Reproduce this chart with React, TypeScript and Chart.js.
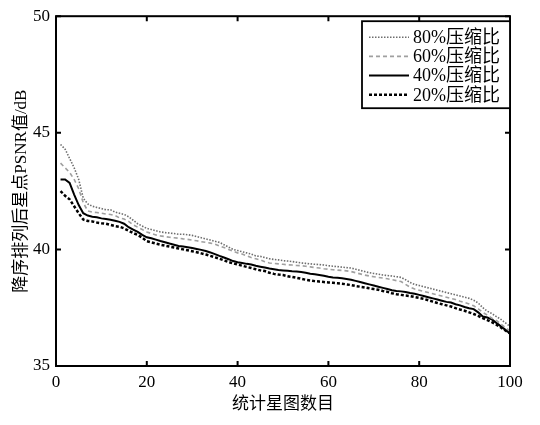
import React, { useEffect, useRef } from "react";
import { Chart, registerables } from "chart.js";

Chart.register(...registerables);

// x: statistic star map index (1..100)
const starIndex: number[] = Array.from({ length: 100 }, (_, i) => i + 1);

const xTicks = [0, 20, 40, 60, 80, 100];
const yTicks = [35, 40, 45, 50];

const seriesLabels = ["80%压缩比", "60%压缩比", "40%压缩比", "20%压缩比"];

const cr80: number[] = [
  44.5, 44.3, 43.9, 43.5, 43.0, 42.2, 41.95, 41.85, 41.8, 41.75,
  41.7, 41.7, 41.6, 41.55, 41.5, 41.4, 41.25, 41.1, 41.0, 40.9,
  40.85, 40.8, 40.75, 40.72, 40.7, 40.68, 40.65, 40.65, 40.63, 40.6,
  40.55, 40.5, 40.45, 40.4, 40.35, 40.3, 40.2, 40.1, 40.0, 39.95,
  39.9, 39.85, 39.8, 39.72, 39.7, 39.65, 39.6, 39.57, 39.55, 39.52,
  39.5, 39.48, 39.45, 39.42, 39.4, 39.38, 39.36, 39.35, 39.33, 39.3,
  39.28, 39.26, 39.24, 39.22, 39.2, 39.15, 39.1, 39.05, 39.0, 38.97,
  38.94, 38.9, 38.88, 38.86, 38.83, 38.8, 38.7, 38.58, 38.5, 38.45,
  38.4, 38.35, 38.3, 38.25, 38.2, 38.15, 38.1, 38.05, 38.0, 37.95,
  37.9, 37.82, 37.7, 37.5, 37.35, 37.25, 37.12, 37.0, 36.85, 36.7,
];

const cr60: number[] = [
  43.7, 43.5, 43.3, 43.0, 42.6, 42.0, 41.65, 41.6, 41.58, 41.55,
  41.52, 41.5, 41.45, 41.35, 41.3, 41.2, 41.05, 40.95, 40.85, 40.75,
  40.68, 40.62, 40.58, 40.55, 40.52, 40.5, 40.48, 40.45, 40.43, 40.4,
  40.37, 40.33, 40.3, 40.27, 40.23, 40.15, 40.08, 40.0, 39.92, 39.85,
  39.8, 39.72, 39.65, 39.6, 39.55, 39.47, 39.42, 39.4, 39.38, 39.36,
  39.34, 39.33, 39.31, 39.3, 39.28, 39.25, 39.22, 39.2, 39.17, 39.15,
  39.13, 39.11, 39.1, 39.08, 39.05, 39.0, 38.95, 38.9, 38.86, 38.83,
  38.8, 38.77, 38.74, 38.7, 38.66, 38.62, 38.5, 38.38, 38.3, 38.25,
  38.2, 38.15, 38.1, 38.05, 38.0, 37.95, 37.9, 37.85, 37.78, 37.72,
  37.66, 37.58, 37.45, 37.3, 37.18, 37.05, 36.95, 36.8, 36.65, 36.5,
];

const cr40: number[] = [
  43.0, 43.0, 42.85, 42.35, 41.9, 41.55, 41.45, 41.4, 41.38, 41.33,
  41.3, 41.27, 41.23, 41.18, 41.1, 40.95, 40.85, 40.75, 40.62, 40.52,
  40.48, 40.42, 40.36, 40.31, 40.25, 40.2, 40.15, 40.12, 40.09, 40.06,
  40.02, 39.98, 39.93, 39.87, 39.8, 39.72, 39.65, 39.58, 39.5, 39.45,
  39.42, 39.38, 39.35, 39.3, 39.26, 39.22, 39.18, 39.15, 39.12, 39.1,
  39.08, 39.06, 39.05, 39.03, 39.0, 38.96, 38.93, 38.9, 38.87, 38.83,
  38.8, 38.78, 38.76, 38.73, 38.7, 38.65, 38.6, 38.55, 38.5, 38.45,
  38.4, 38.35, 38.3, 38.25, 38.22, 38.2, 38.17, 38.13, 38.1, 38.05,
  38.0, 37.95, 37.9, 37.85, 37.8, 37.75, 37.72, 37.65, 37.6, 37.53,
  37.48, 37.44, 37.3, 37.12, 37.08, 37.0, 36.85, 36.7, 36.55, 36.4,
];

const cr20: number[] = [
  42.5, 42.3, 42.15, 41.85, 41.55, 41.28, 41.22, 41.2, 41.15, 41.12,
  41.1, 41.05, 41.0, 40.97, 40.9, 40.8, 40.7, 40.62, 40.5, 40.35,
  40.3, 40.25, 40.2, 40.16, 40.12, 40.08, 40.04, 40.0, 39.96, 39.92,
  39.88, 39.83, 39.78, 39.72, 39.66, 39.6, 39.53, 39.46, 39.4, 39.35,
  39.3, 39.25, 39.2, 39.15, 39.1, 39.07, 39.0, 38.95, 38.92, 38.9,
  38.85, 38.82, 38.78, 38.74, 38.7, 38.67, 38.64, 38.62, 38.6, 38.58,
  38.57, 38.55, 38.53, 38.5, 38.47, 38.43, 38.4, 38.37, 38.33, 38.3,
  38.27, 38.22, 38.18, 38.12, 38.08, 38.05, 38.02, 38.0, 37.96, 37.92,
  37.88, 37.82, 37.76, 37.7, 37.65, 37.6, 37.55, 37.48, 37.42, 37.37,
  37.3, 37.23, 37.15, 37.05, 36.97, 36.88, 36.77, 36.65, 36.52, 36.4,
];

const FONT = "'Liberation Serif', 'Noto Sans CJK SC', serif";

const framePlugin = {
  id: "frameAndTicks",
  afterDraw(chart: any) {
    const { ctx, chartArea } = chart;
    const xs = chart.scales.x;
    const ys = chart.scales.y;
    const { left, right, top, bottom } = chartArea;
    ctx.save();
    ctx.strokeStyle = "#000";
    ctx.lineWidth = 2;
    ctx.strokeRect(left, top, right - left, bottom - top);
    const tl = 5;
    ctx.lineWidth = 2;
    ctx.beginPath();
    xTicks.forEach((v) => {
      const px = xs.getPixelForValue(v);
      ctx.moveTo(px, bottom);
      ctx.lineTo(px, bottom - tl);
      ctx.moveTo(px, top);
      ctx.lineTo(px, top + tl);
    });
    yTicks.forEach((v) => {
      const py = ys.getPixelForValue(v);
      ctx.moveTo(left, py);
      ctx.lineTo(left + tl, py);
      ctx.moveTo(right, py);
      ctx.lineTo(right - tl, py);
    });
    ctx.stroke();

    // legend box inside plot
    const boxL = right - 148;
    const boxT = top + 5;
    const boxW = 148;
    const boxH = 87;
    ctx.fillStyle = "#fff";
    ctx.fillRect(boxL, boxT, boxW, boxH);
    ctx.lineWidth = 1.8;
    ctx.strokeRect(boxL, boxT, boxW, boxH);
    const rowH = 19.2;
    chart.data.datasets.forEach((ds: any, i: number) => {
      const y = boxT + 16 + i * rowH;
      ctx.save();
      ctx.strokeStyle = ds.borderColor;
      ctx.lineWidth = ds.borderWidth;
      ctx.setLineDash(ds.borderDash || []);
      ctx.beginPath();
      ctx.moveTo(boxL + 7, y);
      ctx.lineTo(boxL + 47, y);
      ctx.stroke();
      ctx.restore();
      ctx.fillStyle = "#000";
      ctx.font = `18px ${FONT}`;
      ctx.textBaseline = "middle";
      ctx.textAlign = "left";
      ctx.fillText(ds.label, boxL + 51, y + 1);
    });
    ctx.restore();
  },
};

export default function App() {
  const ref = useRef<HTMLCanvasElement | null>(null);
  useEffect(() => {
    if (!ref.current) return;
    const mk = (vals: number[]) => vals.map((v, i) => ({ x: starIndex[i], y: v }));
    const chart = new Chart(ref.current, {
      type: "line",
      data: {
        datasets: [
          {
            label: seriesLabels[0],
            data: mk(cr80),
            borderColor: "#6e6e6e",
            borderWidth: 1.6,
            borderDash: [1.5, 1.5],
            pointRadius: 0,
            fill: false,
          },
          {
            label: seriesLabels[1],
            data: mk(cr60),
            borderColor: "#a0a0a0",
            borderWidth: 1.6,
            borderDash: [4, 3],
            pointRadius: 0,
            fill: false,
          },
          {
            label: seriesLabels[2],
            data: mk(cr40),
            borderColor: "#000",
            borderWidth: 2,
            pointRadius: 0,
            fill: false,
          },
          {
            label: seriesLabels[3],
            data: mk(cr20),
            borderColor: "#000",
            borderWidth: 2.5,
            borderDash: [3, 2],
            pointRadius: 0,
            fill: false,
          },
        ],
      },
      options: {
        responsive: false,
        animation: false,
        layout: { padding: { left: 0, top: 12, right: 30, bottom: 0 } },
        plugins: { legend: { display: false }, tooltip: { enabled: false } },
        scales: {
          x: {
            type: "linear",
            min: 0,
            max: 100,
            afterFit: (s: any) => { s.height = 59; },
            afterBuildTicks: (s: any) => { s.ticks = xTicks.map((v) => ({ value: v })); },
            grid: { display: false, drawTicks: false },
            border: { display: false },
            ticks: { color: "#000", font: { family: FONT, size: 17 }, padding: 6, maxRotation: 0 },
            title: {
              display: true,
              text: "统计星图数目",
              color: "#000",
              font: { family: FONT, size: 17 },
              padding: { top: 0, bottom: 10 },
            },
          },
          y: {
            type: "linear",
            min: 35,
            max: 50,
            afterFit: (s: any) => { s.width = 56; },
            afterBuildTicks: (s: any) => { s.ticks = yTicks.map((v) => ({ value: v })); },
            grid: { display: false, drawTicks: false },
            border: { display: false },
            ticks: { color: "#000", font: { family: FONT, size: 17 }, padding: 6 },
            title: {
              display: true,
              text: "降序排列后星点PSNR值/dB",
              color: "#000",
              font: { family: FONT, size: 17 },
              padding: { top: 11, bottom: 0 },
            },
          },
        },
      },
      plugins: [framePlugin],
    });
    return () => chart.destroy();
  }, []);
  return (
    <div style={{ position: "absolute", left: 0, top: 0, width: 540, height: 425, background: "#fff" }}>
      <canvas ref={ref} width={540} height={425} style={{ width: 540, height: 425 }} />
    </div>
  );
}
